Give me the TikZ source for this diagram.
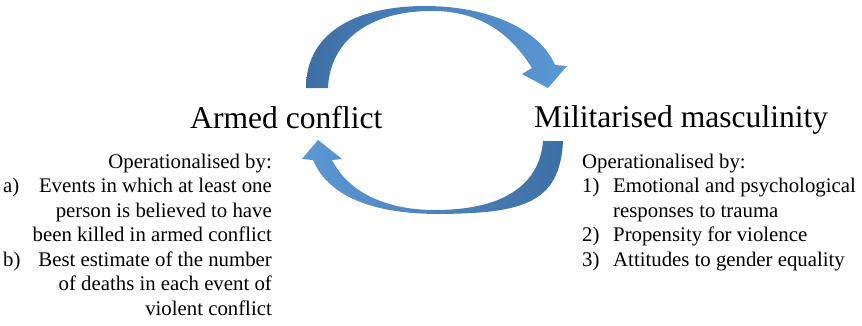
\documentclass[tikz,border=0pt]{standalone}
\usepackage{fontspec}
\setmainfont{Liberation Serif}
\definecolor{arrdark}{RGB}{61,111,165}
\definecolor{arrlight}{RGB}{90,152,212}
\tikzset{
  headtext/.style={inner sep=0pt, font=\fontsize{31.6}{36}\selectfont},
  bodytext/.style={inner sep=0pt, font=\fontsize{20.8}{24.5}\selectfont},
  arrowshape/.style={draw=none}
}
\begin{document}
\begin{tikzpicture}[x=1pt,y=-1pt]
\useasboundingbox[fill=white] (0,0) rectangle (862,325);
% top curved arrow
\path[arrowshape, left color=arrdark, right color=arrlight]
  (306,88) .. controls (306,30) and (360,6) .. (425,6)
  .. controls (490,6) and (540,30) .. (555,65)
  -- (567,66) -- (548,88) -- (522,74) -- (532,68)
  .. controls (505,25) and (470,10) .. (428,11)
  .. controls (370,12) and (330,40) .. (328,88) -- cycle;
% bottom curved arrow
\path[arrowshape, left color=arrlight, right color=arrdark]
  (563,141) .. controls (560,205) and (520,213) .. (440,214)
  .. controls (380,214) and (330,200) .. (313,160)
  -- (302,159) -- (318,140) -- (342,159) -- (332,160)
  .. controls (350,195) and (390,210) .. (435,210)
  .. controls (510,210) and (540,180) .. (543,141) -- cycle;
% headings
\node[headtext, anchor=base west] (ac) at (190,128) {Armed conflict};
\node[headtext, anchor=base west] (mm) at (534,127) {Militarised masculinity};
% left block
\node[bodytext, anchor=base east] (l0) at (272,168) {Operationalised by:};
\node[bodytext, anchor=base west] (la) at (3,192.5) {a)};
\node[bodytext, anchor=base east] (l1) at (272,192.5) {Events in which at least one};
\node[bodytext, anchor=base east] (l2) at (272,217) {person is believed to have};
\node[bodytext, anchor=base east] (l3) at (272,241.5) {been killed in armed conflict};
\node[bodytext, anchor=base west] (lb) at (3,266) {b)};
\node[bodytext, anchor=base east] (l4) at (272,266) {Best estimate of the number};
\node[bodytext, anchor=base east] (l5) at (272,290.5) {of deaths in each event of};
\node[bodytext, anchor=base east] (l6) at (272,315) {violent conflict};
% right block
\node[bodytext, anchor=base west] (r0) at (582,168) {Operationalised by:};
\node[bodytext, anchor=base west] (r1n) at (582,192.5) {1)};
\node[bodytext, anchor=base west] (r1) at (613,192.5) {Emotional and psychological};
\node[bodytext, anchor=base west] (r1b) at (613,217) {responses to trauma};
\node[bodytext, anchor=base west] (r2n) at (582,241.5) {2)};
\node[bodytext, anchor=base west] (r2) at (613,241.5) {Propensity for violence};
\node[bodytext, anchor=base west] (r3n) at (582,266) {3)};
\node[bodytext, anchor=base west] (r3) at (613,266) {Attitudes to gender equality};
\end{tikzpicture}
\end{document}
